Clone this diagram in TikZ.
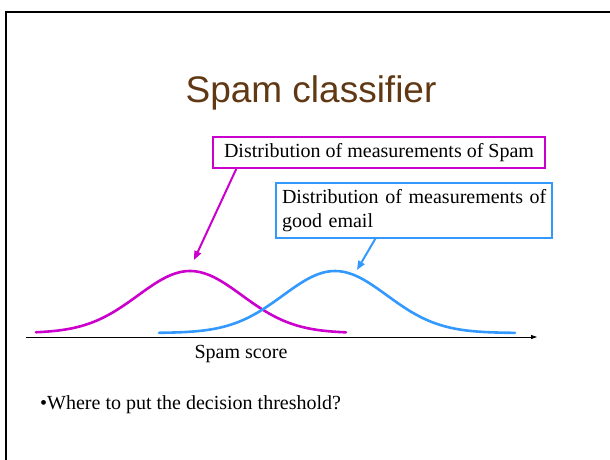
\documentclass[tikz,border=0pt]{standalone}
\usepackage{fontspec}
\setmainfont{Liberation Serif}
\newfontfamily\arialf{Liberation Sans}
\usetikzlibrary{arrows.meta,calc}
\definecolor{spamc}{RGB}{204,0,204}
\definecolor{goodc}{RGB}{51,153,255}
\definecolor{titlec}{RGB}{96,56,20}
\tikzset{
  lbl/.style={font=\fontsize{20}{24}\selectfont, text=black},
  boxlbl/.style={lbl, draw, line width=1.2pt, fill=white, inner xsep=6pt, inner ysep=3pt},
  pointer/.style={line width=2pt, -{Triangle[length=9pt,width=7pt]}},
  curve/.style={line width=2.6pt, line cap=round},
}
\begin{document}
\begin{tikzpicture}[x=1pt,y=-1pt]
\useasboundingbox (0,0) rectangle (610,459);
% slide frame
\draw[line width=2pt] (6,470) -- (6,12) -- (620,12);
% title
\node[font=\arialf\fontsize{37}{40}\selectfont, text=titlec] (title) at (311,93) {Spam classifier};
% curves
\draw[curve, spamc] plot[domain=36:346, samples=90, smooth] (\x, {333 - 62*exp(-0.5*((\x-190)/52)^2)});
\draw[curve, goodc] plot[domain=159:515, samples=90, smooth] (\x, {333 - 62*exp(-0.5*((\x-335)/52)^2)});
% axis
\coordinate (ax0) at (26,337);
\coordinate (ax1) at (537,337);
\draw[line width=0.8pt, -{Triangle[length=6pt,width=4pt]}] (ax0) -- (ax1);
\node[lbl] (score) at (241,354) {Spam score};
% boxes
\node[boxlbl, draw=spamc, minimum width=332pt, minimum height=31pt] (spambox) at (379,152.5) {Distribution of measurements of Spam};
\node[boxlbl, draw=goodc, inner xsep=6pt, minimum width=276pt, minimum height=55pt, text width=264pt, align=left] (goodbox) at (414,210.5) {\mbox{Distribution of measurements of}\\good email};
% pointers
\coordinate (stip) at (194,260);
\coordinate (gtip) at (357,270);
\draw[pointer, spamc] ([xshift=24pt]spambox.south west) -- (stip);
\draw[pointer, goodc] ([xshift=100pt]goodbox.south west) -- (gtip);
% question
\node[lbl, anchor=west, inner sep=0pt] (question) at (40,405) {\textbullet Where to put the decision threshold?};
\end{tikzpicture}
\end{document}
